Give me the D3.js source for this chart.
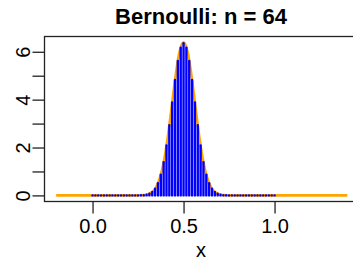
<!DOCTYPE html>
<html>
  <head>
    <meta charset="utf-8" />
    <style>
      body{
        margin: 0;
        background: white;
        font-family: 'Liberation Sans', Arial, sans-serif;
      }
      svg text{
        fill: black;
      }
    </style>
  </head>
  <body>
    <script src="https://d3js.org/d3.v7.min.js"></script>
    <svg id="chart"></svg>
    <script>
      var width = 353;
      var height = 265;

      // bar heights (density) for x = k/64, k = 0..64
      var barY = [
        0, 0, 0, 0, 0, 0, 0, 0, 0, 0, 0, 0, 0, 0, 0, 0.0003,
        0.0017, 0.0048, 0.0125, 0.0303, 0.0681, 0.1426, 0.2788, 0.509, 0.8696,
        1.3914, 2.0871, 2.9374, 3.8815, 4.8184, 5.6215, 6.1655, 6.3582,
        6.1655, 5.6215, 4.8184, 3.8815, 2.9374, 2.0871, 1.3914, 0.8696,
        0.509, 0.2788, 0.1426, 0.0681, 0.0303, 0.0125, 0.0048, 0.0017,
        0.0003, 0, 0, 0, 0, 0, 0, 0, 0, 0, 0, 0, 0, 0, 0, 0
      ];
      var barX = barY.map(function (d, i) { return i / 64; });

      // orange density curve
      var curveX = [-0.2, 0.2, 0.25, 0.2625, 0.275, 0.2875, 0.3, 0.3125, 0.325, 0.3375,
        0.35, 0.3625, 0.375, 0.3875, 0.4, 0.4125, 0.425, 0.4375, 0.45, 0.4625,
        0.475, 0.4875, 0.5, 0.5125, 0.525, 0.5375, 0.55, 0.5625, 0.575, 0.5875,
        0.6, 0.6125, 0.625, 0.6375, 0.65, 0.6625, 0.675, 0.6875, 0.7, 0.7125,
        0.725, 0.7375, 0.75, 0.8, 1.4];
      var curveY = [0, 0, 0.0021, 0.0047, 0.0098, 0.0197, 0.0381, 0.0709, 0.127, 0.217,
        0.358, 0.568, 0.864, 1.263, 1.775, 2.396, 3.107, 3.872, 4.635, 5.332,
        5.892, 6.257, 6.383, 6.257, 5.892, 5.332, 4.635, 3.872, 3.107, 2.396,
        1.775, 1.263, 0.864, 0.568, 0.358, 0.217, 0.127, 0.0709, 0.0381, 0.0197,
        0.0098, 0.0047, 0.0021, 0, 0];

      var xTicks = [0, 0.5, 1];
      var yTicks = [0, 1, 2, 3, 4, 5, 6];

      var svg = d3.select("#chart")
        .attr("width", width)
        .attr("height", height);

      var x = d3.scaleLinear().domain([-0.264, 1.464]).range([44.5, 359]);
      var y = d3.scaleLinear().domain([-0.255, 6.638]).range([201.5, 36.5]);

      // density curve
      var line = d3.line()
        .x(function (d) { return x(d[0]); })
        .y(function (d) { return y(d[1]); })
        .curve(d3.curveMonotoneX);

      svg.append("path")
        .datum(curveX.map(function (d, i) { return [d, curveY[i]]; }))
        .attr("d", line)
        .attr("fill", "none")
        .attr("stroke", "orange")
        .attr("stroke-width", 2.6);

      // histogram as type="h" lines
      svg.selectAll(".bar")
        .data(barY)
        .enter()
        .append("line")
        .attr("class", "bar")
        .attr("x1", function (d, i) { return x(barX[i]); })
        .attr("x2", function (d, i) { return x(barX[i]); })
        .attr("y1", y(0))
        .attr("y2", function (d) { return y(d); })
        .attr("stroke", "blue")
        .attr("stroke-width", 2.4)
        .attr("stroke-linecap", "round");

      // box
      svg.append("rect")
        .attr("x", 44.5)
        .attr("y", 36.5)
        .attr("width", 400)
        .attr("height", 165)
        .attr("fill", "none")
        .attr("stroke", "#222")
        .attr("stroke-width", 1.3);

      var xAxis = svg.append("g")
        .attr("transform", "translate(0,201.5)")
        .call(d3.axisBottom(x).tickValues(xTicks).tickSize(12).tickPadding(5)
          .tickFormat(d3.format(".1f")));
      xAxis.select(".domain").remove();
      xAxis.selectAll("line").attr("stroke", "#222").attr("stroke-width", 1.3);
      xAxis.selectAll("text")
        .attr("font-family", "'Liberation Sans', Arial, sans-serif")
        .attr("font-size", 20);

      var yAxis = svg.append("g")
        .attr("transform", "translate(44.5,0)")
        .call(d3.axisLeft(y).tickValues(yTicks).tickSize(12)
          .tickFormat(function (d) { return d % 2 === 0 ? d : ""; }));
      yAxis.select(".domain").remove();
      yAxis.selectAll("line").attr("stroke", "#222").attr("stroke-width", 1.3);
      yAxis.selectAll("text")
        .attr("font-family", "'Liberation Sans', Arial, sans-serif")
        .attr("font-size", 20)
        .attr("text-anchor", "middle")
        .attr("dy", 0)
        .attr("x", 0)
        .attr("transform", "translate(-14.5,0) rotate(-90)");

      svg.append("text")
        .attr("x", 201)
        .attr("y", 24)
        .attr("text-anchor", "middle")
        .attr("font-size", 22)
        .attr("font-weight", "bold")
        .text("Bernoulli: n = 64");

      svg.append("text")
        .attr("x", 201)
        .attr("y", 257)
        .attr("text-anchor", "middle")
        .attr("font-size", 20)
        .text("x");
    </script>
  </body>
</html>
